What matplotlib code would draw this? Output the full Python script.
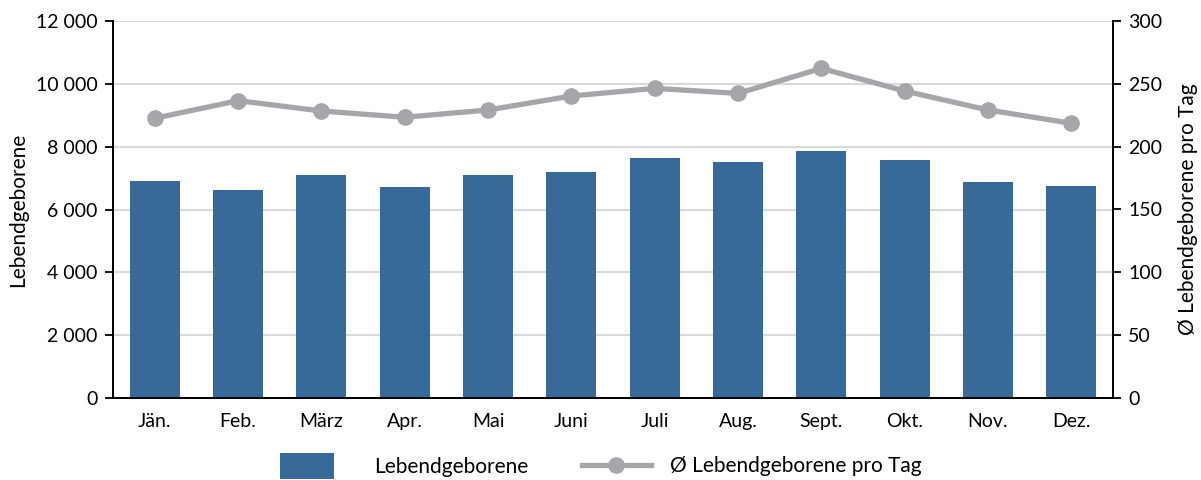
import matplotlib.pyplot as plt
import numpy as np
from matplotlib.ticker import FuncFormatter

# Lebendgeborene nach Monat
months = ["Jän.", "Feb.", "März", "Apr.", "Mai", "Juni", "Juli", "Aug.", "Sept.", "Okt.", "Nov.", "Dez."]
births = [6911, 6624, 7102, 6720, 7102, 7197, 7643, 7516, 7866, 7580, 6879, 6752]
births_per_day = [222.6, 236.6, 228.4, 223.4, 229.2, 240.3, 246.4, 242.4, 262.3, 244.3, 229.2, 218.6]

BAR_COLOR = "#376A98"
LINE_COLOR = "#A5A5AA"
GRID_COLOR = "#D9D9D9"

plt.rcParams["font.family"] = ["Lato", "DejaVu Sans"]
plt.rcParams["font.size"] = 14

fig = plt.figure(figsize=(12.01, 4.8), dpi=100)
ax = fig.add_axes([113 / 1201, 1 - 398 / 480, 1000 / 1201, 377 / 480])
ax2 = ax.twinx()

x = np.arange(len(months))
bars = ax.bar(x, births, width=0.6, color=BAR_COLOR, zorder=3, label="Lebendgeborene")
line, = ax2.plot(x, births_per_day, color=LINE_COLOR, linewidth=3.8, marker="o",
                 markersize=11, zorder=4, label="Ø Lebendgeborene pro Tag")

ax.set_xlim(-0.5, len(months) - 0.5)
ax.set_ylim(0, 12000)
ax.set_yticks(np.arange(0, 12001, 2000))
ax.yaxis.set_major_formatter(FuncFormatter(lambda v, p: f"{int(v):,}".replace(",", " ")))
ax2.set_ylim(0, 300)
ax2.set_yticks(np.arange(0, 301, 50))

ax.set_xticks(x)
ax.set_xticklabels(months)
ax.tick_params(axis="x", length=0, pad=11)
ax.tick_params(axis="y", length=6, width=1.3, direction="out", pad=5)
ax2.tick_params(axis="y", length=6, width=1.3, direction="out", pad=5)

ax.grid(axis="y", color=GRID_COLOR, linewidth=1.5, zorder=0)
ax.set_axisbelow(True)

for a in (ax, ax2):
    a.spines["top"].set_visible(False)
    for s in ("left", "right", "bottom"):
        a.spines[s].set_linewidth(1.3)
        a.spines[s].set_color("black")

ax.set_ylabel("Lebendgeborene", fontsize=15, labelpad=6)
ax2.set_ylabel("Ø Lebendgeborene pro Tag", fontsize=15, labelpad=11)

# zwei Legenden, damit die Abstände wie im Original passen
fig.legend(handles=[bars], loc="center left", bbox_to_anchor=(280 / 1201, 1 - 466 / 480),
           frameon=False, handlelength=2.6, handleheight=1.5, handletextpad=1.9,
           borderpad=0, borderaxespad=0, fontsize=15)
fig.legend(handles=[line], loc="center left", bbox_to_anchor=(582 / 1201, 1 - 466 / 480),
           frameon=False, handlelength=3.3, handletextpad=0.9,
           borderpad=0, borderaxespad=0, fontsize=15)

fig.savefig("out.png", dpi=100)
